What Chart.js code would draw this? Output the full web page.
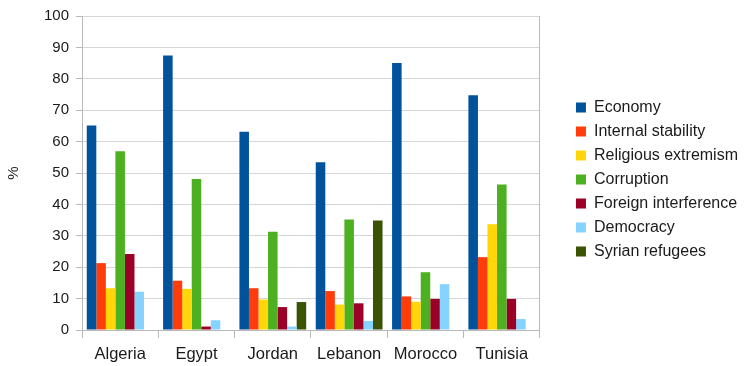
<!DOCTYPE html>
<html>
<head>
<meta charset="utf-8">
<script src="https://cdn.jsdelivr.net/npm/chart.js@4.4.0/dist/chart.umd.min.js"></script>
<style>
html,body{margin:0;padding:0;background:#fff;}
#wrap{width:754px;height:366px;}
</style>
</head>
<body>
<div id="wrap"><canvas id="chart" width="754" height="366"></canvas></div>
<script>
// Survey: main challenges by country (%)
const countries = ['Algeria', 'Egypt', 'Jordan', 'Lebanon', 'Morocco', 'Tunisia'];
const economy = [65.1, 87.4, 63.1, 53.4, 85.0, 74.8];
const internalStability = [21.3, 15.7, 13.3, 12.4, 10.7, 23.2];
const religiousExtremism = [13.3, 13.1, 9.7, 8.1, 9.0, 33.7];
const corruption = [56.9, 48.1, 31.3, 35.2, 18.4, 46.3];
const foreignInterference = [24.2, 1.1, 7.3, 8.5, 9.9, 9.9];
const democracy = [12.2, 3.1, 1.1, 2.9, 14.6, 3.5];
const syrianRefugees = [null, null, 8.9, 34.9, null, null];
const seriesNames = ['Economy', 'Internal stability', 'Religious extremism', 'Corruption', 'Foreign interference', 'Democracy', 'Syrian refugees'];
const yMin = 0, yMax = 100, yStep = 10;

const colors = ['#00529b', '#ff3c0c', '#ffd60a', '#4cb020', '#9b0026', '#86d3ff', '#3a5204'];
const seriesData = [economy, internalStability, religiousExtremism, corruption, foreignInterference, democracy, syrianRefugees];

const FONT = "'Liberation Sans', Arial, sans-serif";
const TEXT = '#1a1a1a';
const GRID = '#d6d6d6';
const AXIS = '#b8b8b8';

const datasets = seriesNames.map((name, i) => ({
  label: name,
  data: seriesData[i],
  backgroundColor: colors[i],
  borderWidth: 0,
  categoryPercentage: 0.875,
  barPercentage: 1.0
}));

// nudge the legend block down a little so it sits where the original does
const legendNudge = {
  id: 'legendNudge',
  afterLayout(chart) {
    const lg = chart.legend;
    if (!lg) return;
    lg.top += 6.5;
    lg.bottom += 6.5;
  }
};

new Chart(document.getElementById('chart').getContext('2d'), {
  type: 'bar',
  data: { labels: countries, datasets },
  plugins: [legendNudge],
  options: {
    responsive: false,
    animation: false,
    layout: { padding: { left: 0, top: 15, right: 6, bottom: 0 } },
    plugins: {
      tooltip: { enabled: false },
      legend: {
        position: 'right',
        fullSize: false,
        maxWidth: 230,
        labels: {
          font: { family: FONT, size: 16 },
          color: TEXT,
          boxWidth: 10,
          boxHeight: 10,
          padding: 8
        }
      }
    },
    scales: {
      x: {
        grid: { display: true, offset: true, drawOnChartArea: false, tickLength: 8, color: AXIS },
        border: { display: true, color: AXIS },
        ticks: { font: { family: FONT, size: 16.5 }, color: TEXT, padding: 7, maxRotation: 0 },
        afterFit(s) { s.height = 36; }
      },
      y: {
        min: yMin, max: yMax,
        ticks: { stepSize: yStep, font: { family: FONT, size: 15 }, color: TEXT, padding: 7 },
        grid: { color: GRID, tickLength: 6, tickColor: AXIS },
        border: { display: true, color: AXIS },
        title: { display: true, text: '%', font: { family: FONT, size: 15 }, color: TEXT, padding: { top: 5, bottom: 0 } },
        afterFit(s) { s.width = 82; }
      },
      y2: {
        position: 'right',
        min: yMin, max: yMax,
        grid: { display: false },
        ticks: { display: false },
        border: { display: true, color: AXIS },
        afterFit(s) { s.width = 28; }
      }
    }
  }
});
</script>
</body>
</html>
